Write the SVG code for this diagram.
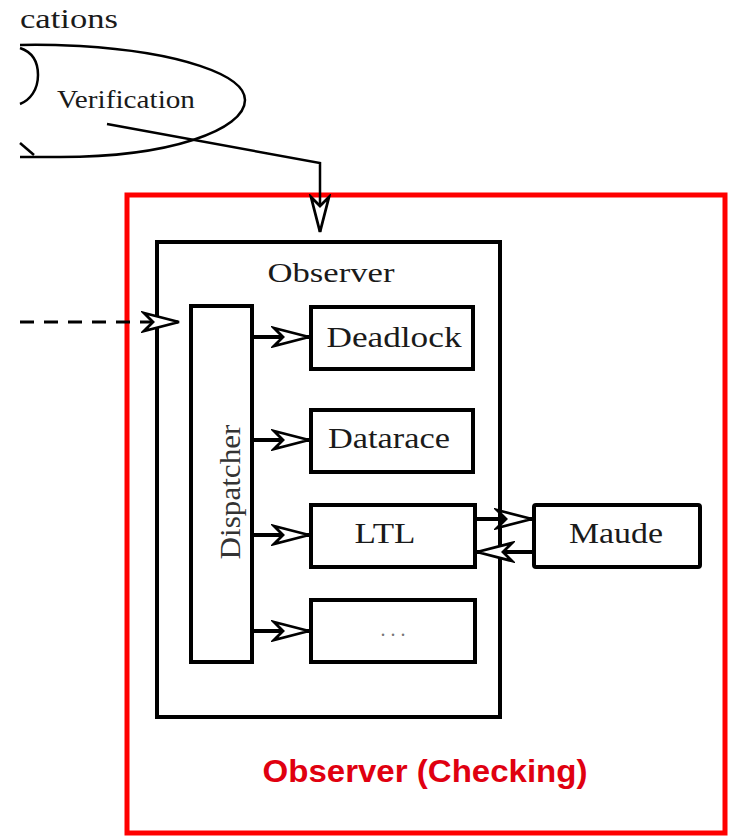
<svg xmlns="http://www.w3.org/2000/svg" width="730" height="838" viewBox="0 0 730 838">
<defs>
<style>
.box{fill:#fff;stroke:#000;stroke-width:4}
.t{font-family:"Liberation Serif","DejaVu Serif",serif;font-size:30px;fill:#1a1a1a;text-anchor:middle}
.ln{fill:none;stroke:#000;stroke-width:4}
.thin{fill:none;stroke:#000;stroke-width:2.5}
</style>
<marker id="ah" markerUnits="userSpaceOnUse" markerWidth="40" markerHeight="22" viewBox="0 0 40 22" refX="38" refY="11" orient="auto">
<path d="M3,2 L38,11 L3,20 L12,11 Z" fill="#fff" stroke="#000" stroke-width="2.8" stroke-linejoin="miter"/>
</marker>
</defs>
<rect width="730" height="838" fill="#fff"/>
<g id="verification">
<text x="20" y="28" class="t" style="text-anchor:start;font-size:27px" textLength="98" lengthAdjust="spacingAndGlyphs">cations</text>
<path d="M20,45 Q40,44 80,46 C180,52 245,75 245,100 C245,130 170,157 60,157 L20,157" class="thin"/>
<path d="M20,48 C32,52 38,62 38,75 C38,90 30,100 20,104" class="thin"/>
<path d="M20,143 L34,155" class="thin"/>
<text x="126" y="108" class="t" style="font-size:26px" textLength="138" lengthAdjust="spacingAndGlyphs">Verification</text>
</g>
<g id="checking">
<rect x="127" y="195" width="598" height="638" fill="none" stroke="#f00" stroke-width="5"/>
<text x="425" y="782" font-family="Liberation Sans,Arial,sans-serif" font-weight="bold" font-size="31" fill="#e00010" text-anchor="middle" textLength="325" lengthAdjust="spacingAndGlyphs">Observer (Checking)</text>
</g>
<g id="observer">
<rect x="157" y="242" width="343" height="475" class="box"/>
<text x="331" y="282" class="t" style="font-size:27px" textLength="127" lengthAdjust="spacingAndGlyphs">Observer</text>
</g>
<g id="dispatcher">
<rect x="191" y="306" width="61" height="356" class="box"/>
<text transform="translate(240,492) rotate(-90)" x="0" y="0" class="t" style="fill:#333" textLength="135" lengthAdjust="spacingAndGlyphs">Dispatcher</text>
</g>
<g id="deadlock"><rect x="311" y="307" width="162" height="62" class="box"/><text x="394" y="347" class="t" textLength="135" lengthAdjust="spacingAndGlyphs">Deadlock</text></g>
<g id="datarace"><rect x="311" y="410" width="162" height="62" class="box"/><text x="389" y="448" class="t" textLength="122" lengthAdjust="spacingAndGlyphs">Datarace</text></g>
<g id="ltl"><rect x="311" y="505" width="164" height="62" class="box"/><text x="385" y="543" class="t" textLength="61" lengthAdjust="spacingAndGlyphs">LTL</text></g>
<g id="more"><rect x="311" y="600" width="164" height="62" class="box"/><text x="393" y="636" class="t" style="fill:#777;font-size:20px">. . .</text></g>
<g id="maude"><rect x="534" y="505" width="166" height="62" rx="2" class="box"/><text x="616" y="543" class="t" textLength="94" lengthAdjust="spacingAndGlyphs">Maude</text></g>
<g id="connectors">
<polyline points="107,124 320,163 320,232" class="thin" marker-end="url(#ah)"/>
<line x1="20" y1="322" x2="179" y2="322" stroke="#000" stroke-width="3" stroke-dasharray="14,10" marker-end="url(#ah)"/>
<line x1="252" y1="337" x2="309" y2="337" class="ln" marker-end="url(#ah)"/>
<line x1="252" y1="440" x2="309" y2="440" class="ln" marker-end="url(#ah)"/>
<line x1="252" y1="535" x2="309" y2="535" class="ln" marker-end="url(#ah)"/>
<line x1="252" y1="631" x2="309" y2="631" class="ln" marker-end="url(#ah)"/>
<line x1="475" y1="519" x2="532" y2="519" class="ln" marker-end="url(#ah)"/>
<line x1="534" y1="552" x2="477" y2="552" class="ln" marker-end="url(#ah)"/>
</g>
</svg>
